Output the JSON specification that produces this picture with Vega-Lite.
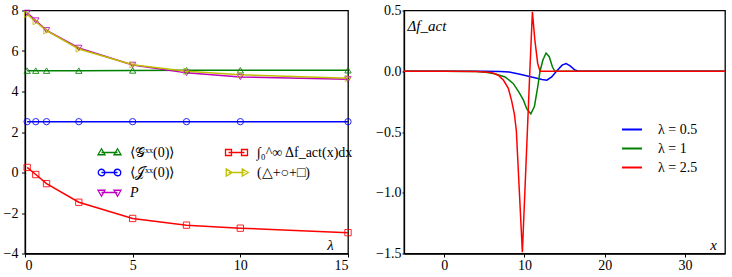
{
 "$schema": "https://vega.github.io/schema/vega-lite/v6.json",
 "padding": {"left": 2, "top": 2.5, "right": 0, "bottom": 0},
 "spacing": 19,
 "resolve": {"scale": {"color": "independent"}, "legend": {"color": "independent"}},
 "config": {
  "font": "Liberation Serif",
  "view": {"stroke": "#000", "strokeWidth": 1.3},
  "axis": {"grid": false, "domainColor": "#000", "domainWidth": 1.3, "tickColor": "#000", "labelColor": "#000", "labelFont": "Liberation Serif", "labelFontSize": 14, "tickSize": 3.5, "titleFont": "Liberation Serif", "titleFontWeight": "normal", "titleFontSize": 15, "titleColor": "#000"},
  "legend": {"labelFont": "Liberation Serif", "labelFontSize": 14, "labelColor": "#000"}
 },
 "hconcat": [
  {
   "width": 323,
   "height": 243,
   "data": {"values": [
    {"s": "G", "lam": 0.1, "v": 5.03}, {"s": "G", "lam": 0.5, "v": 5.03}, {"s": "G", "lam": 1, "v": 5.03}, {"s": "G", "lam": 2.5, "v": 5.03}, {"s": "G", "lam": 5, "v": 5.04}, {"s": "G", "lam": 7.5, "v": 5.05}, {"s": "G", "lam": 10, "v": 5.05}, {"s": "G", "lam": 15, "v": 5.05},
    {"s": "J", "lam": 0.1, "v": 2.51}, {"s": "J", "lam": 0.5, "v": 2.51}, {"s": "J", "lam": 1, "v": 2.51}, {"s": "J", "lam": 2.5, "v": 2.51}, {"s": "J", "lam": 5, "v": 2.51}, {"s": "J", "lam": 7.5, "v": 2.51}, {"s": "J", "lam": 10, "v": 2.51}, {"s": "J", "lam": 15, "v": 2.51},
    {"s": "P", "lam": 0.1, "v": 7.88}, {"s": "P", "lam": 0.5, "v": 7.5}, {"s": "P", "lam": 1, "v": 7.02}, {"s": "P", "lam": 2.5, "v": 6.15}, {"s": "P", "lam": 5, "v": 5.31}, {"s": "P", "lam": 7.5, "v": 4.92}, {"s": "P", "lam": 10, "v": 4.72}, {"s": "P", "lam": 15, "v": 4.6},
    {"s": "Int", "lam": 0.1, "v": 0.25}, {"s": "Int", "lam": 0.5, "v": -0.1}, {"s": "Int", "lam": 1, "v": -0.55}, {"s": "Int", "lam": 2.5, "v": -1.47}, {"s": "Int", "lam": 5, "v": -2.27}, {"s": "Int", "lam": 7.5, "v": -2.6}, {"s": "Int", "lam": 10, "v": -2.75}, {"s": "Int", "lam": 15, "v": -2.97},
    {"s": "Sum", "lam": 0.1, "v": 7.81}, {"s": "Sum", "lam": 0.5, "v": 7.45}, {"s": "Sum", "lam": 1, "v": 7.0}, {"s": "Sum", "lam": 2.5, "v": 6.1}, {"s": "Sum", "lam": 5, "v": 5.32}, {"s": "Sum", "lam": 7.5, "v": 5.0}, {"s": "Sum", "lam": 10, "v": 4.83}, {"s": "Sum", "lam": 15, "v": 4.65}
   ]},
   "encoding": {
    "x": {"field": "lam", "type": "quantitative", "scale": {"domain": [0, 15], "nice": false},
     "axis": {"values": [0, 5, 10, 15], "title": "λ", "titleX": 305, "titleY": -4, "titleAlign": "center", "titleBaseline": "alphabetic", "titleFontStyle": "italic", "labelPadding": 1.5}},
    "y": {"field": "v", "type": "quantitative", "scale": {"domain": [-4, 8], "nice": false},
     "axis": {"values": [-4, -2, 0, 2, 4, 6, 8], "title": null, "labelPadding": 3.5}},
    "color": {"field": "s", "type": "nominal",
     "scale": {"domain": ["G", "J", "P", "Int", "Sum"], "range": ["#008000", "#0000ff", "#bf00bf", "#ff0000", "#bfbf00"]},
     "legend": {
      "orient": "none", "legendX": 71, "legendY": 135, "title": null, "columns": 2, "columnPadding": 47, "rowPadding": 6,
      "symbolSize": 100, "symbolStrokeWidth": 1.3, "labelOffset": 20, "padding": 0,
      "labelExpr": "datum.value === 'G' ? '⟨𝒢ˣˣ(0)⟩' : datum.value === 'J' ? '⟨𝒥ˣˣ(0)⟩' : datum.value === 'P' ? 'P' : datum.value === 'Int' ? '∫₀^∞ Δf_act(x)dx' : '(△+○+□)'",
      "encode": {
       "symbols": {"update": {
        "shape": {"signal": "datum.value === 'G' ? 'M-0.3,0H2.9M-0.3,-0.75L0.4,0.45L-1,0.45ZM2.9,-0.75L3.6,0.45L2.2,0.45Z' : datum.value === 'J' ? 'M-0.3,0H2.9M-0.95,0A0.65,0.65 0 1,0 0.35,0A0.65,0.65 0 1,0 -0.95,0M2.25,0A0.65,0.65 0 1,0 3.55,0A0.65,0.65 0 1,0 2.25,0' : datum.value === 'P' ? 'M-0.3,0H2.9M-0.3,0.75L0.4,-0.45L-1,-0.45ZM2.9,0.75L3.6,-0.45L2.2,-0.45Z' : datum.value === 'Int' ? 'M-0.3,0H2.9M-0.9,-0.6H0.3V0.6H-0.9ZM2.3,-0.6H3.5V0.6H2.3Z' : 'M-0.3,0H2.9M0.45,0L-0.75,-0.7L-0.75,0.7ZM3.65,0L2.45,-0.7L2.45,0.7Z'"},
        "fill": {"value": "transparent"}
       }},
       "labels": {"update": {"fontStyle": {"signal": "datum.value === 'P' ? 'italic' : 'normal'"}}}
      }
     }
    }
   },
   "layer": [
    {"mark": {"type": "line", "strokeWidth": 1.5}},
    {"transform": [{"filter": "datum.s === 'G'"}], "mark": {"type": "point", "shape": "triangle-up", "filled": false, "size": 40, "strokeWidth": 1, "opacity": 0.85}},
    {"transform": [{"filter": "datum.s === 'J'"}], "mark": {"type": "point", "shape": "circle", "filled": false, "size": 40, "strokeWidth": 1, "opacity": 0.85}},
    {"transform": [{"filter": "datum.s === 'P'"}], "mark": {"type": "point", "shape": "triangle-down", "filled": false, "size": 40, "strokeWidth": 1, "opacity": 0.85}},
    {"transform": [{"filter": "datum.s === 'Int'"}], "mark": {"type": "point", "shape": "square", "filled": false, "size": 40, "strokeWidth": 1, "opacity": 0.85}},
    {"transform": [{"filter": "datum.s === 'Sum'"}], "mark": {"type": "point", "shape": "triangle-right", "filled": false, "size": 40, "strokeWidth": 1, "opacity": 0.85}}
   ]
  },
  {
   "width": 321,
   "height": 243,
   "data": {"values": [
    {"lam": "0.5", "x": -5, "y": 0}, {"lam": "0.5", "x": 0, "y": 0}, {"lam": "0.5", "x": 5, "y": 0}, {"lam": "0.5", "x": 7, "y": -0.002}, {"lam": "0.5", "x": 8.1, "y": -0.006}, {"lam": "0.5", "x": 9.45, "y": -0.025}, {"lam": "0.5", "x": 10.9, "y": -0.047}, {"lam": "0.5", "x": 12.2, "y": -0.068}, {"lam": "0.5", "x": 12.8, "y": -0.074}, {"lam": "0.5", "x": 13.4, "y": -0.047}, {"lam": "0.5", "x": 14.0, "y": 0}, {"lam": "0.5", "x": 14.7, "y": 0.05}, {"lam": "0.5", "x": 15.2, "y": 0.063}, {"lam": "0.5", "x": 15.7, "y": 0.044}, {"lam": "0.5", "x": 16.3, "y": 0.01}, {"lam": "0.5", "x": 16.75, "y": 0}, {"lam": "0.5", "x": 20, "y": 0}, {"lam": "0.5", "x": 35, "y": 0},
    {"lam": "1", "x": -5, "y": 0}, {"lam": "1", "x": 0, "y": 0}, {"lam": "1", "x": 4, "y": -0.003}, {"lam": "1", "x": 5.2, "y": -0.008}, {"lam": "1", "x": 6.3, "y": -0.02}, {"lam": "1", "x": 7.6, "y": -0.047}, {"lam": "1", "x": 8.6, "y": -0.1}, {"lam": "1", "x": 9.3, "y": -0.17}, {"lam": "1", "x": 9.9, "y": -0.24}, {"lam": "1", "x": 10.3, "y": -0.31}, {"lam": "1", "x": 10.8, "y": -0.35}, {"lam": "1", "x": 11.25, "y": -0.29}, {"lam": "1", "x": 11.66, "y": -0.13}, {"lam": "1", "x": 11.95, "y": 0}, {"lam": "1", "x": 12.3, "y": 0.09}, {"lam": "1", "x": 12.7, "y": 0.15}, {"lam": "1", "x": 13.1, "y": 0.12}, {"lam": "1", "x": 13.5, "y": 0.035}, {"lam": "1", "x": 13.8, "y": 0}, {"lam": "1", "x": 20, "y": 0}, {"lam": "1", "x": 35, "y": 0},
    {"lam": "2.5", "x": -5, "y": 0}, {"lam": "2.5", "x": 0, "y": 0}, {"lam": "2.5", "x": 4, "y": -0.003}, {"lam": "2.5", "x": 5.9, "y": -0.01}, {"lam": "2.5", "x": 6.75, "y": -0.033}, {"lam": "2.5", "x": 7.4, "y": -0.074}, {"lam": "2.5", "x": 8.0, "y": -0.14}, {"lam": "2.5", "x": 8.4, "y": -0.24}, {"lam": "2.5", "x": 8.75, "y": -0.35}, {"lam": "2.5", "x": 9.0, "y": -0.49}, {"lam": "2.5", "x": 9.75, "y": -1.49}, {"lam": "2.5", "x": 10.4, "y": -0.45}, {"lam": "2.5", "x": 10.7, "y": 0.03}, {"lam": "2.5", "x": 11.0, "y": 0.49}, {"lam": "2.5", "x": 11.3, "y": 0.26}, {"lam": "2.5", "x": 11.66, "y": 0.063}, {"lam": "2.5", "x": 11.95, "y": 0}, {"lam": "2.5", "x": 12.2, "y": 0}, {"lam": "2.5", "x": 35, "y": 0}
   ]},
   "mark": {"type": "line", "strokeWidth": 1.5, "clip": true},
   "encoding": {
    "x": {"field": "x", "type": "quantitative", "scale": {"domain": [-5, 35], "nice": false},
     "axis": {"values": [0, 10, 20, 30], "title": "x", "titleX": 309, "titleY": -4, "titleAlign": "center", "titleBaseline": "alphabetic", "titleFontStyle": "italic", "labelPadding": 1.5}},
    "y": {"field": "y", "type": "quantitative", "scale": {"domain": [-1.5, 0.5], "nice": false},
     "axis": {"values": [-1.5, -1, -0.5, 0, 0.5], "format": ".1f", "title": "Δf_act", "titleAngle": 0, "titleX": 3, "titleY": 20, "titleAlign": "left", "titleBaseline": "alphabetic", "titleFontStyle": "italic", "labelPadding": 1, "tickSize": 2}},
    "color": {"field": "lam", "type": "nominal",
     "scale": {"domain": ["0.5", "1", "2.5"], "range": ["#0000ff", "#008000", "#ff0000"]},
     "legend": {"orient": "none", "legendX": 217, "legendY": 108, "title": null, "symbolType": "stroke", "symbolSize": 400, "symbolStrokeWidth": 2, "labelOffset": 15, "rowPadding": 1, "padding": 0, "labelExpr": "'λ = ' + datum.label"}}
   }
  }
 ]
}
